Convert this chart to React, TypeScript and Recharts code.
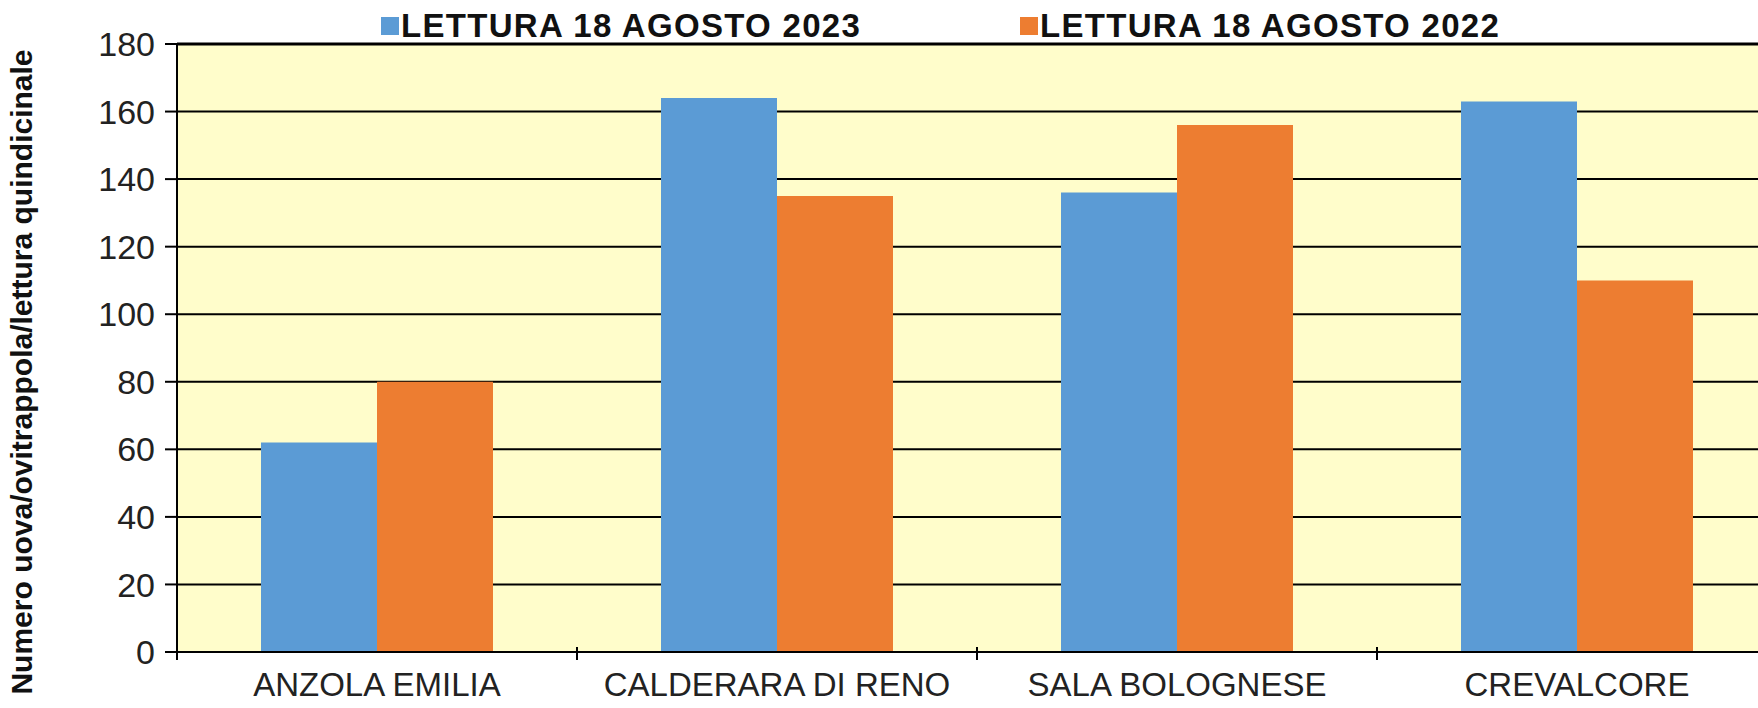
import React from "react";
import { BarChart, Bar, XAxis, YAxis, CartesianGrid, ReferenceLine } from "recharts";

const categories = ["ANZOLA EMILIA", "CALDERARA DI RENO", "SALA BOLOGNESE", "CREVALCORE"];
const values2023 = [62, 164, 136, 163];
const values2022 = [80, 135, 156, 110];
const yTicks = [0, 20, 40, 60, 80, 100, 120, 140, 160, 180];
const seriesNames = ["LETTURA 18 AGOSTO 2023", "LETTURA 18 AGOSTO 2022"];

const BLUE = "#5B9BD5";
const ORANGE = "#ED7D31";
const FONT = "'Liberation Sans', Arial, sans-serif";

const CHART_W = 1790;
const CHART_H = 708;
const MARGIN = { top: 44, right: 13, bottom: 0, left: 0 };
const YAXIS_W = 177;
const XAXIS_H = 56;
const PLOT_W = CHART_W - MARGIN.left - MARGIN.right - YAXIS_W;
const BAND = PLOT_W / categories.length;

const data = categories.map((c, i) => ({ name: c, y2023: values2023[i], y2022: values2022[i] }));

const CatTick = (props: any) => {
  const { x, y, payload, index } = props;
  const half = BAND / 2;
  return (
    <g>
      <line x1={x - half} y1={y - 13} x2={x - half} y2={y} stroke="#000" strokeWidth={2} />
      {index === categories.length - 1 && (
        <line x1={x + half} y1={y - 13} x2={x + half} y2={y} stroke="#000" strokeWidth={2} />
      )}
      <text x={x} y={y + 13} dy="0.71em" textAnchor="middle" fontSize={33} fontFamily={FONT} fill="#222">
        {payload.value}
      </text>
    </g>
  );
};

const LegendItem = ({ color, label, sqLeft, textLeft }: any) => (
  <>
    <div style={{ position: "absolute", left: sqLeft, top: 17, width: 18, height: 18, background: color }} />
    <div
      style={{
        position: "absolute",
        left: textLeft,
        top: 7,
        fontFamily: FONT,
        fontWeight: 700,
        fontSize: 33,
        lineHeight: "38px",
        color: "#111",
        whiteSpace: "nowrap",
        letterSpacing: 1.3,
      }}
    >
      {label}
    </div>
  </>
);

export default function App() {
  return (
    <div style={{ position: "absolute", left: 0, top: 0, width: 1758, height: 708, overflow: "hidden", background: "#fff" }}>
      <BarChart
        width={CHART_W}
        height={CHART_H}
        data={data}
        margin={MARGIN}
        barCategoryGap="21%"
        barGap={0}
      >
        <CartesianGrid vertical={false} stroke="#000" strokeWidth={2} fill="#FFFDCB" strokeOpacity={1} />
        <XAxis
          dataKey="name"
          height={XAXIS_H}
          tickLine={false}
          axisLine={{ stroke: "#000", strokeWidth: 2 }}
          tick={<CatTick />}
          interval={0}
        />
        <YAxis
          width={YAXIS_W}
          domain={[0, 180]}
          ticks={yTicks}
          interval={0}
          tickSize={12}
          tickMargin={10}
          axisLine={{ stroke: "#000", strokeWidth: 2 }}
          tickLine={{ stroke: "#000", strokeWidth: 2 }}
          tick={{ fontSize: 34, fontFamily: FONT, fill: "#222" }}
        />
        <ReferenceLine y={180} stroke="#000" strokeWidth={3} />
        <Bar dataKey="y2023" fill={BLUE} isAnimationActive={false} />
        <Bar dataKey="y2022" fill={ORANGE} isAnimationActive={false} />
      </BarChart>
      <svg style={{ position: "absolute", left: 0, top: 0 }} width={50} height={708}>
        <text
          x={21}
          y={372}
          transform="rotate(-90 21 372)"
          textAnchor="middle"
          dominantBaseline="central"
          fontFamily={FONT}
          fontWeight={700}
          fontSize={30}
          fill="#111"
        >
          Numero uova/ovitrappola/lettura quindicinale
        </text>
      </svg>
      <LegendItem color={BLUE} label={seriesNames[0]} sqLeft={381} textLeft={401} />
      <LegendItem color={ORANGE} label={seriesNames[1]} sqLeft={1020} textLeft={1040} />
    </div>
  );
}
